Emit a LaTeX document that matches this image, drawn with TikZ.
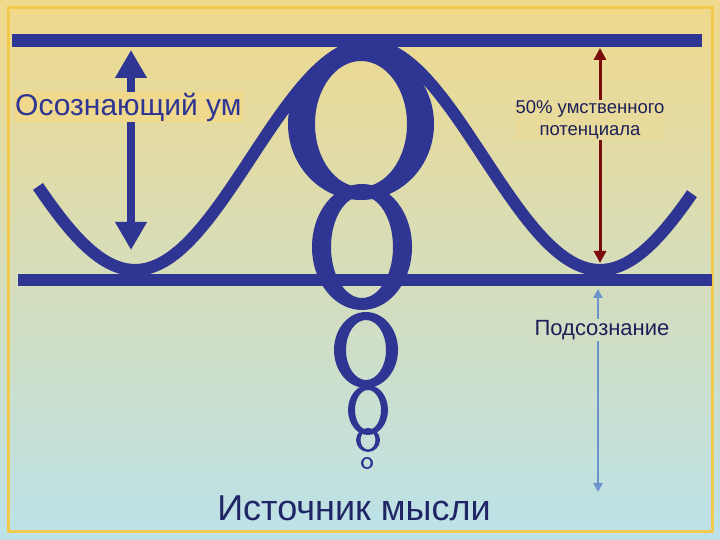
\documentclass[tikz,border=0pt]{standalone}
\usepackage{fontspec}
\setmainfont{Liberation Sans}
\usetikzlibrary{arrows.meta}
\definecolor{navy}{HTML}{2E3592}
\definecolor{dred}{HTML}{7A0C0C}
\definecolor{lblue}{HTML}{6B93CC}
\definecolor{topc}{HTML}{F0D98C}
\definecolor{botc}{HTML}{BCE2E9}
\definecolor{frame}{HTML}{F3C94E}
\begin{document}
\begin{tikzpicture}[x=1pt,y=1pt,
  bar/.style={navy,line width=13pt},
  ring/.style={fill=navy,even odd rule},
  lbl/.style={inner sep=1pt,align=center}]
\useasboundingbox (0,0) rectangle (720,540);
\shade[top color=topc,bottom color=botc] (0,0) rectangle (720,540);
\draw[frame,line width=3pt] (8,8) rectangle (712,532);
\draw[frame!70,line width=4pt] (15,528) -- (705,528);
% wave
\draw[navy,line width=12pt] plot[domain=38:692,samples=120] (\x,{540-(157.5-112.5*cos(0.774194*(\x-367.5)))});
% bars
\coordinate (t1) at (12,499); \coordinate (t2) at (702,499);
\coordinate (m1) at (18,260); \coordinate (m2) at (712,260);
\draw[bar] (t1) -- (t2);
\draw[bar,line width=12pt] (m1) -- (m2);
% rings (letter-O shapes)
\fill[ring] (361,416) ellipse [x radius=73,y radius=76] (361,416) ellipse [x radius=46,y radius=63];
\fill[ring] (362,293) ellipse [x radius=50,y radius=63] (362,293) ellipse [x radius=31,y radius=51];
\fill[ring] (366,190) ellipse [x radius=32,y radius=38] (366,190) ellipse [x radius=20,y radius=30];
\fill[ring] (368,130) ellipse [x radius=20,y radius=25] (368,130) ellipse [x radius=13,y radius=20];
\fill[ring] (368,100) ellipse [x radius=12,y radius=12] (368,100) ellipse [x radius=7.5,y radius=9.5];
\fill[ring] (367,77) ellipse [x radius=6,y radius=6] (367,77) ellipse [x radius=3.8,y radius=4.6];
% left arrow
\coordinate (la) at (131,490); \coordinate (lb) at (131,290);
\draw[navy,line width=8pt,{Triangle[length=28pt,width=30pt]}-{Triangle[length=28pt,width=30pt]}] (lb) -- (la);
\node[lbl,fill=topc,text=navy,font=\fontsize{30}{32}\selectfont,anchor=west] (cons) at (14,433) {Осознающий ум};
% red arrow
\coordinate (ra) at (600,492); \coordinate (rb) at (600,277);
\draw[dred,line width=3pt,{Triangle[length=12pt,width=12pt]}-{Triangle[length=12pt,width=12pt]}] (ra) -- (rb);
\node[lbl,fill=topc!85!botc,text=navy!60!black,font=\fontsize{18.5}{22}\selectfont] (pot) at (590,420) {50\% умственного\\потенциала};
% light blue arrow
\coordinate (ba) at (598,251); \coordinate (bb) at (598,48);
\draw[lblue,line width=2pt,{Triangle[length=9pt,width=9pt]}-{Triangle[length=9pt,width=9pt]}] (ba) -- (bb);
\node[lbl,fill=botc!60!topc,text=navy!60!black,font=\fontsize{22}{24}\selectfont] (sub) at (602,210) {Подсознание};
\node[lbl,text=navy!70!black,font=\fontsize{36}{38}\selectfont] (src) at (354,32) {Источник мысли};
\end{tikzpicture}
\end{document}
